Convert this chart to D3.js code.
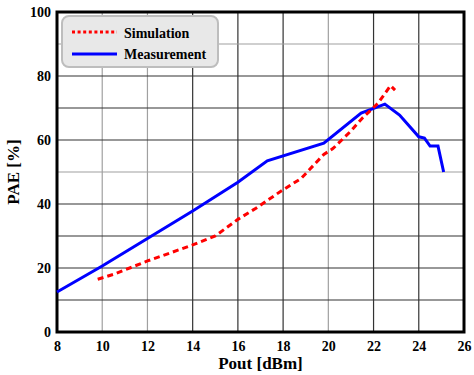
<html>
<head>
<style>
body { margin: 0; background: #fff; }
text { font-family: "Liberation Serif", "Times New Roman", serif; font-weight: bold; }
.tick text { font-size: 14px; }
.title { font-size: 17px; }
.leg { font-size: 14px; }
</style>
<script src="https://d3js.org/d3.v7.min.js"></script>
</head>
<body>
<svg width="474" height="375"></svg>
<script>
var simX = [9.8, 10.5, 12, 13, 14, 15, 16, 16.8, 17.9, 18.8, 19.8, 20.2, 21, 21.5, 22.2, 22.75, 22.95];
var simY = [16.5, 18, 22.2, 24.7, 27.2, 30, 35.2, 38.7, 44, 48, 55.5, 57.3, 62.8, 66.8, 71.5, 77, 75.6];
var measX = [8, 10, 12, 14, 16, 17.3, 19.8, 21.45, 22.5, 23.15, 24.0, 24.25, 24.5, 24.85, 25.1];
var measY = [12.5, 20.6, 29.2, 37.8, 46.8, 53.5, 59, 68.4, 71.2, 67.8, 61, 60.6, 58.1, 58.1, 50];
var xTicks = [8, 10, 12, 14, 16, 18, 20, 22, 24, 26];
var yTicks = [0, 20, 40, 60, 80, 100];
var gridY = [10, 20, 30, 40, 50, 60, 70, 80, 90];
var grayX = [10, 12, 20];
var grayY = [50, 90];

var svg = d3.select("svg");
var x = d3.scaleLinear().domain([8, 26]).range([57, 464]);
var y = d3.scaleLinear().domain([0, 100]).range([332, 12]);

// grid
svg.append("g").selectAll("line").data(xTicks.slice(1, -1)).enter().append("line")
  .attr("x1", function(d) { return x(d); }).attr("x2", function(d) { return x(d); })
  .attr("y1", y(0)).attr("y2", y(100))
  .attr("stroke", function(d) { return grayX.indexOf(d) >= 0 ? "#a0a0a0" : "#333"; })
  .attr("stroke-width", 1.2);
svg.append("g").selectAll("line").data(gridY).enter().append("line")
  .attr("y1", function(d) { return y(d); }).attr("y2", function(d) { return y(d); })
  .attr("x1", x(8)).attr("x2", x(26))
  .attr("stroke", function(d) { return grayY.indexOf(d) >= 0 ? "#a0a0a0" : "#333"; })
  .attr("stroke-width", 1.2);

// axes
var xAxis = svg.append("g").attr("transform", "translate(0," + y(0) + ")")
  .call(d3.axisBottom(x).tickValues(xTicks).tickSize(0).tickPadding(9));
var yAxis = svg.append("g").attr("transform", "translate(" + x(8) + ",0)")
  .call(d3.axisLeft(y).tickValues(yTicks).tickSize(0).tickPadding(6));
xAxis.select(".domain").remove();
yAxis.select(".domain").remove();
svg.selectAll(".tick text").attr("fill", "#000");

// frame
svg.append("rect").attr("x", x(8)).attr("y", y(100))
  .attr("width", x(26) - x(8)).attr("height", y(0) - y(100))
  .attr("fill", "none").attr("stroke", "#000").attr("stroke-width", 3);

// curves
var line = d3.line().x(function(d) { return x(d[0]); }).y(function(d) { return y(d[1]); });
svg.append("path").datum(d3.zip(measX, measY)).attr("d", line)
  .attr("fill", "none").attr("stroke", "#0000ff").attr("stroke-width", 3);
svg.append("path").datum(d3.zip(simX, simY)).attr("d", line)
  .attr("fill", "none").attr("stroke", "#ff0000").attr("stroke-width", 3)
  .attr("stroke-dasharray", "6,4");

// titles
svg.append("text").attr("class", "title").attr("x", (x(8) + x(26)) / 2).attr("y", 369)
  .attr("text-anchor", "middle").text("Pout [dBm]");
svg.append("text").attr("class", "title")
  .attr("transform", "translate(19," + ((y(0) + y(100)) / 2) + ") rotate(-90)")
  .attr("text-anchor", "middle").text("PAE [%]");

// legend
var leg = svg.append("g");
leg.append("rect").attr("x", 62).attr("y", 16).attr("width", 156).attr("height", 51)
  .attr("rx", 7).attr("fill", "#e8e8e8").attr("stroke", "#bdbdbd").attr("stroke-width", 2);
leg.append("line").attr("x1", 72).attr("x2", 117).attr("y1", 32).attr("y2", 32)
  .attr("stroke", "#ff0000").attr("stroke-width", 3).attr("stroke-dasharray", "3,2.6");
leg.append("line").attr("x1", 72).attr("x2", 117).attr("y1", 54).attr("y2", 54)
  .attr("stroke", "#0000ff").attr("stroke-width", 3);
leg.append("text").attr("class", "leg").attr("x", 124).attr("y", 33).attr("dy", "0.35em").text("Simulation");
leg.append("text").attr("class", "leg").attr("x", 124).attr("y", 54).attr("dy", "0.35em").text("Measurement");
</script>
</body>
</html>
